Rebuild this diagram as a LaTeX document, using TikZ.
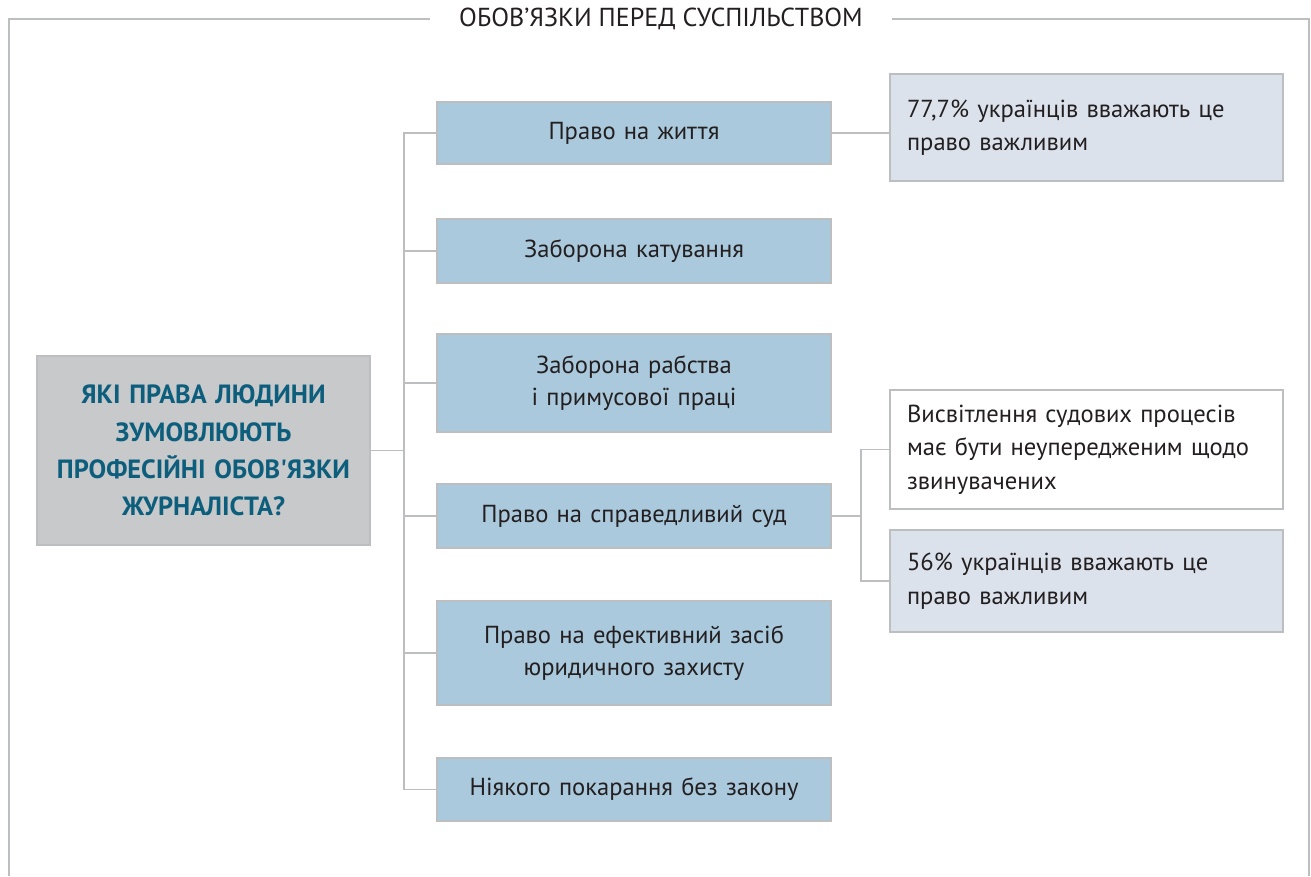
\documentclass[tikz,border=0pt]{standalone}
\usepackage{fontspec}
\setmainfont{PT Sans}
\usepackage{xcolor}
\usetikzlibrary{positioning}
\definecolor{framegray}{RGB}{189,190,192}
\definecolor{rightblue}{RGB}{170,201,220}
\definecolor{paleblue}{RGB}{219,226,236}
\definecolor{keygray}{RGB}{200,201,203}
\definecolor{keyteal}{RGB}{12,94,124}
\definecolor{bodytext}{RGB}{35,31,32}

\tikzset{
  rightbox/.style={draw=framegray, line width=1.1pt, fill=rightblue, inner sep=0pt,
    minimum width=7.88cm, text width=7.4cm, align=center, text=bodytext,
    font=\fontsize{14}{18.5}\selectfont},
  notebox/.style={draw=framegray, line width=1.1pt, fill=paleblue, inner sep=0pt,
    minimum width=7.86cm, text width=7.18cm, align=left, text=bodytext,
    font=\fontsize{14}{19}\selectfont},
  keybox/.style={draw=framegray, line width=1.1pt, fill=keygray, inner sep=0pt,
    minimum width=6.66cm, minimum height=3.78cm, text width=6.4cm, align=center,
    text=keyteal, font=\fontsize{15}{21.2}\selectfont\bfseries},
  link/.style={draw=framegray, line width=1.1pt},
  frameline/.style={draw=framegray, line width=1.6pt}
}

\begin{document}
\begin{tikzpicture}[x=0.02cm, y=-0.02cm]
  \useasboundingbox (0,0) rectangle (1311,876);

  % outer frame with its title
  \node[inner xsep=0.58cm, inner ysep=0pt, text=bodytext,
        font=\fontsize{14.8}{16}\selectfont] (title) at (661,19)
        {ОБОВ’ЯЗКИ ПЕРЕД СУСПІЛЬСТВОМ};
  \draw[frameline] (title.west) -- (9,19) -- (9,876);
  \draw[frameline] (title.east) -- (1309,19) -- (1309,876);

  % question
  \node[keybox] (key) at (203.5,450.5)
    {ЯКІ ПРАВА ЛЮДИНИ\\ЗУМОВЛЮЮТЬ\\ПРОФЕСІЙНІ ОБОВ\textquotesingle ЯЗКИ\\ЖУРНАЛІСТА?};

  % rights
  \node[rightbox, minimum height=1.24cm] (life)    at (634,133)   {Право на життя};
  \node[rightbox, minimum height=1.28cm] (torture) at (634,251)   {Заборона катування};
  \node[rightbox, minimum height=1.96cm] (slavery) at (634,383)   {Заборона рабства\\і примусової праці};
  \node[rightbox, minimum height=1.28cm] (trial)   at (634,516)   {Право на справедливий суд};
  \node[rightbox, minimum height=2.08cm] (remedy)  at (634,653)   {Право на ефективний засіб\\юридичного захисту};
  \node[rightbox, minimum height=1.26cm] (nolaw)   at (634,789.5) {Ніякого покарання без закону};

  % notes
  \node[notebox, minimum height=2.14cm] (lifenote) at (1086.5,127.5)
    {77,7\% українців вважають це\\право важливим};
  \node[notebox, fill=white, minimum height=2.38cm] (trialfair) at (1086.5,449.5)
    {Висвітлення судових процесів\\має бути неупередженим щодо\\звинувачених};
  \node[notebox, minimum height=2.04cm] (trialnote) at (1086.5,581)
    {56\% українців вважають це\\право важливим};

  % connectors
  \coordinate (trunk) at (404,450.5);
  \coordinate (fork) at (861,516);
  \draw[link] (key.east) -- (trunk);
  \draw[link] (life.west) -| (trunk) |- (nolaw.west);
  \foreach \r in {torture,slavery,trial,remedy}
    \draw[link] (\r.west) -- (\r.west -| trunk);
  \draw[link] (life.east) -- (life.east -| lifenote.west);
  \draw[link] (trial.east) -- (fork);
  \draw[link] (trialfair.west) -| (fork) |- (trialnote.west);
\end{tikzpicture}
\end{document}
